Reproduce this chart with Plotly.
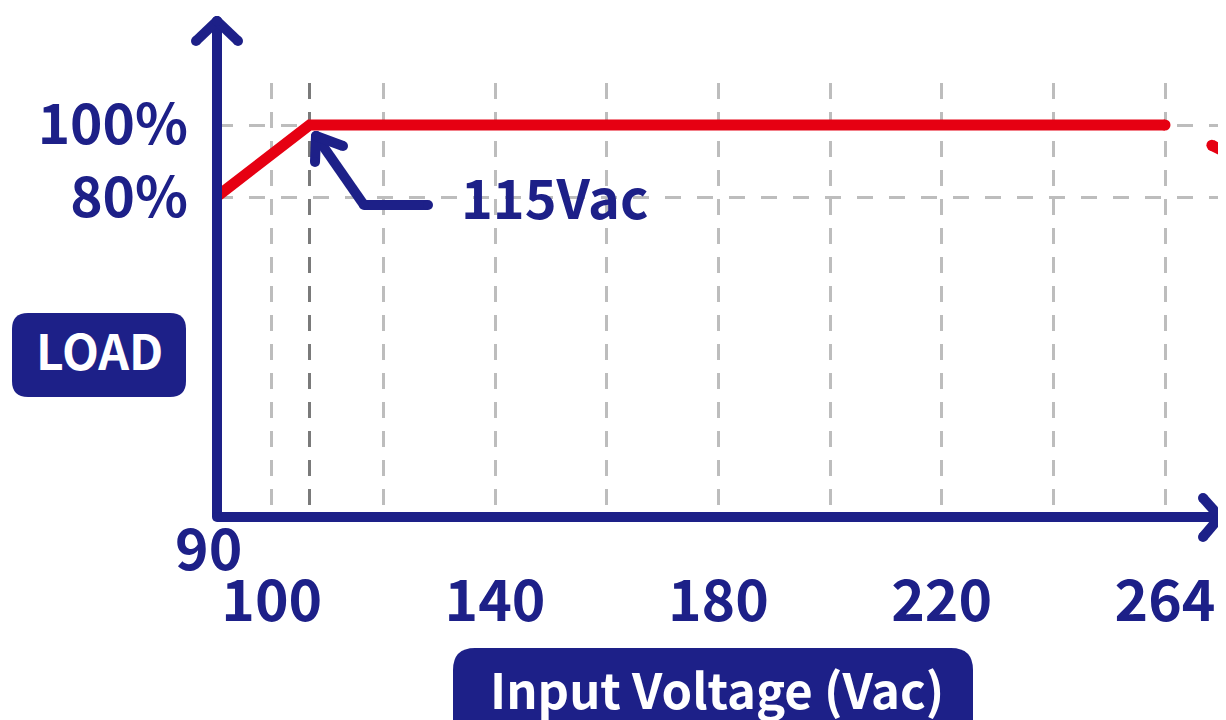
import plotly.graph_objects as go

# ---------------- data ----------------
# The drawn voltage axis is schematic: 115 Vac and 264 Vac sit at
# display positions that are not to scale (as in the original drawing).
grid_pos = [100, 120, 140, 160, 180, 200, 220, 240, 260]
grid_text = ["100", "", "140", "", "180", "", "220", "", "264"]
knee_pos = [106.8]                 # display position of 115 Vac
curve_x = [90, 106.8, 260]         # 90 Vac, 115 Vac, 264 Vac
curve_load = [80, 100, 100]        # % load
tail_x = [268.4, 290]
tail_load = [94.4, 77.7]
load_ticks = [80, 100]
load_text = ["80%", "100%"]

NAVY = "#1d2088"
RED = "#e60012"
GRID = "#bdbdbd"
GRID_DARK = "#7a7a7a"
FONT = "Noto Sans CJK JP"

# window 1226x720; the page body adds an 8px margin, so the figure is
# drawn 8px smaller and all reference pixel positions are shifted by it.
VW, VH, OFF = 1226, 720, 8
W, H = VW - OFF, VH - OFF
PL, PR, PT, PB = 217, 1226, 83, 517          # plot area in window pixels
margin = dict(l=PL - OFF, r=VW - PR, t=PT - OFF, b=VH - PB, pad=0)

# pixel anchors of the drawing -> axis ranges
px100, px260 = 271.7, 1165.0
sx = (px260 - px100) / 160.0
py100, py80 = 125.0, 197.3
sy = (py80 - py100) / 20.0
x_range = [100 - (px100 - PL) / sx, 100 + (PR - px100) / sx]
y_range = [100 - (PB - py100) / sy, 100 + (py100 - PT) / sy]


def X(px):
    return (px - PL) / (PR - PL)


def Y(py):
    return (PB - py) / (PB - PT)


shapes = []


def seg(p, q, color=NAVY, w=10):
    shapes.append(dict(type="line", xref="paper", yref="paper",
                       x0=X(p[0]), y0=Y(p[1]), x1=X(q[0]), y1=Y(q[1]),
                       line=dict(color=color, width=w), layer="above"))


def dot(p, r=5, color=NAVY):
    shapes.append(dict(type="circle", xref="paper", yref="paper",
                       x0=X(p[0] - r), x1=X(p[0] + r),
                       y0=Y(p[1] + r), y1=Y(p[1] - r),
                       fillcolor=color, line=dict(width=0), layer="above"))


def polyline(pts, color=NAVY, w=10):
    for a, b in zip(pts[:-1], pts[1:]):
        seg(a, b, color, w)
    for p in pts:
        dot(p, w / 2, color)


def rrect(x0, y0, x1, y1, r, color=NAVY):
    path = (f"M {X(x0 + r)},{Y(y0)} L {X(x1 - r)},{Y(y0)} "
            f"Q {X(x1)},{Y(y0)} {X(x1)},{Y(y0 + r)} L {X(x1)},{Y(y1 - r)} "
            f"Q {X(x1)},{Y(y1)} {X(x1 - r)},{Y(y1)} L {X(x0 + r)},{Y(y1)} "
            f"Q {X(x0)},{Y(y1)} {X(x0)},{Y(y1 - r)} L {X(x0)},{Y(y0 + r)} "
            f"Q {X(x0)},{Y(y0)} {X(x0 + r)},{Y(y0)} Z")
    shapes.append(dict(type="path", xref="paper", yref="paper", path=path,
                       fillcolor=color, line=dict(width=0), layer="above"))


# axes with open arrow heads
ox, oy = 217, 517
polyline([(ox, 21), (ox, oy), (1220, oy)])
polyline([(196, 41), (ox, 21), (238, 41)])
polyline([(1203, 498), (1220, oy), (1203, 537)])

# pointer to the 115 Vac knee
polyline([(428, 205), (364, 205), (316, 136)])
polyline([(315, 162), (316, 136), (343, 146)])

# label boxes
rrect(12, 313, 186, 397, 16)
rrect(453, 648, 973, 780, 22)

fig = go.Figure()
fig.add_trace(go.Scatter(x=curve_x, y=curve_load, mode="lines",
                         line=dict(color=RED, width=11),
                         hoverinfo="skip", showlegend=False))
fig.add_trace(go.Scatter(x=[curve_x[-1]], y=[curve_load[-1]], mode="markers",
                         marker=dict(color=RED, size=11),
                         hoverinfo="skip", showlegend=False))
fig.add_trace(go.Scatter(x=tail_x, y=tail_load, mode="lines",
                         line=dict(color=RED, width=11),
                         hoverinfo="skip", showlegend=False))
fig.add_trace(go.Scatter(x=[tail_x[0]], y=[tail_load[0]], mode="markers",
                         marker=dict(color=RED, size=11),
                         hoverinfo="skip", showlegend=False))

xtick_font = dict(family=FONT, size=57, color=NAVY, weight=700)
ytick_font = dict(family=FONT, size=55, color=NAVY, weight=700)

annotations = [
    dict(text="90", x=X(208), y=Y(545), xref="paper", yref="paper",
         showarrow=False, xanchor="center", yanchor="middle", font=xtick_font),
    dict(text="115Vac", x=X(459), y=Y(195), xref="paper", yref="paper",
         showarrow=False, xanchor="left", yanchor="middle",
         font=dict(family=FONT, size=54, color=NAVY, weight=700)),
    dict(text="LOAD", x=X(99), y=Y(349), xref="paper", yref="paper",
         showarrow=False, xanchor="center", yanchor="middle",
         font=dict(family=FONT, size=48, color="white", weight=700)),
    dict(text="Input Voltage (Vac)", x=X(717), y=Y(687), xref="paper",
         yref="paper", showarrow=False, xanchor="center", yanchor="middle",
         font=dict(family=FONT, size=49, color="white", weight=700)),
]

fig.update_layout(
    width=W, height=H, autosize=False,
    margin=margin,
    paper_bgcolor="white", plot_bgcolor="white",
    shapes=shapes, annotations=annotations,
    xaxis=dict(range=x_range, tickmode="array", tickvals=grid_pos,
               ticktext=grid_text, showgrid=True, gridcolor=GRID,
               gridwidth=3, griddash="16px,13px", zeroline=False,
               showline=False, ticks="", tickfont=xtick_font,
               ticklabelstandoff=46, fixedrange=True,
               minor=dict(tickvals=knee_pos, showgrid=True,
                          gridcolor=GRID_DARK, gridwidth=3,
                          griddash="16px,13px", ticks="")),
    yaxis=dict(range=y_range, tickmode="array", tickvals=load_ticks,
               ticktext=load_text, showgrid=True, gridcolor=GRID,
               gridwidth=3, griddash="16px,16px", zeroline=False,
               showline=False, ticks="", tickfont=ytick_font,
               ticklabelstandoff=28, fixedrange=True),
)

fig.write_html("out.html")
